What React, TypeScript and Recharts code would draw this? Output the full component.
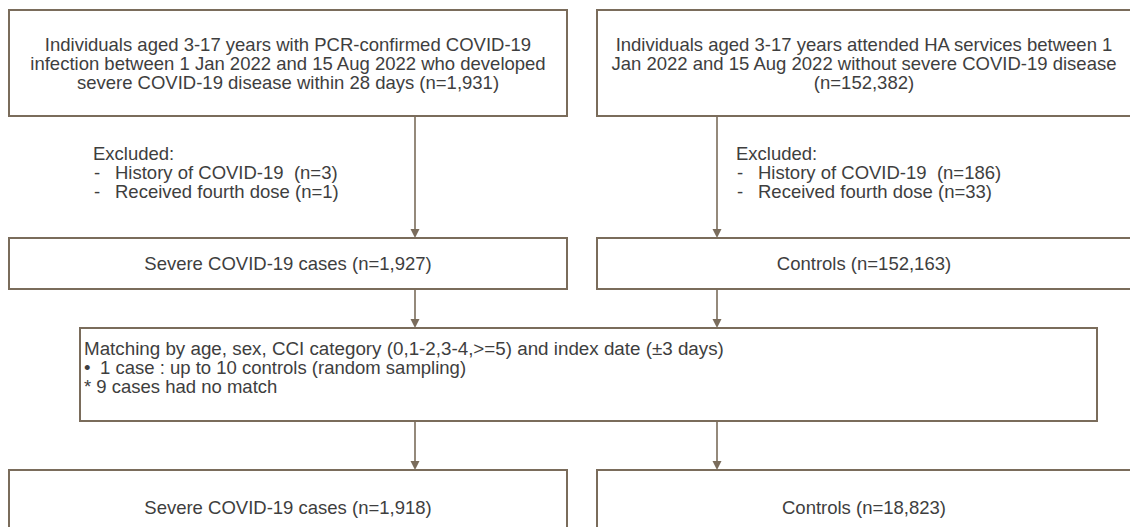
import React from 'react';
import { ComposedChart, XAxis, YAxis, ReferenceArea, ReferenceLine, Scatter } from 'recharts';

const fmt = (n: number) => n.toLocaleString('en-US');

// flow values
const groupNames = ['Severe COVID-19 cases', 'Controls'];
const sourceCounts = [1931, 152382];
const exclusionReasons = ['History of COVID-19 ', 'Received fourth dose'];
const excludedCases = [3, 1];
const excludedControls = [186, 33];
const eligibleCounts = [1927, 152163];
const matchingCriteria = 'Matching by age, sex, CCI category (0,1-2,3-4,>=5) and index date (±3 days)';
const matchingRatio = '1 case : up to 10 controls (random sampling)';
const unmatchedCases = 9;
const matchedCounts = [1918, 18823];

const sourceLines = [
  [
    'Individuals aged 3-17 years with PCR-confirmed COVID-19',
    'infection between 1 Jan 2022 and 15 Aug 2022 who developed',
    `severe COVID-19 disease within 28 days (n=${fmt(sourceCounts[0])})`,
  ],
  [
    'Individuals aged 3-17 years attended HA services between 1',
    'Jan 2022 and 15 Aug 2022 without severe COVID-19 disease',
    `(n=${fmt(sourceCounts[1])})`,
  ],
];
const exclusionCounts = [excludedCases, excludedControls];

// layout
const W = 1130;
const H = 527;
const BORDER = '#7a6c5b';
const INK = '#3e3e3e';
const FONT = '"Liberation Sans", Arial, sans-serif';
const FS = 18.5;
const LH = 19;

const columns = [
  { x1: 9, x2: 567, arrow: 415, exText: 93, exItem: 115 },
  { x1: 597, x2: 1131, arrow: 717, exText: 736, exItem: 758 },
];
const rows = {
  source: [10, 116],
  excluded: 153,
  eligible: [238, 289],
  match: [328, 421],
  matched: [470, 530],
};
const matchX = [80, 1097];

const textStyle = { fontFamily: FONT, fontSize: FS, fill: INK, whiteSpace: 'pre' as const };

const centeredLabel = (lines: string[], offsetY?: number) => (p: any) => {
  const { x, y, width, height } = p.viewBox;
  const cx = x + width / 2;
  const top = offsetY != null ? y + offsetY : y + height / 2 - ((lines.length - 1) * LH) / 2;
  return (
    <g>
      {lines.map((l, i) => (
        <text key={i} x={cx} y={top + i * LH} textAnchor="middle" dominantBaseline="central" style={textStyle}>
          {l}
        </text>
      ))}
    </g>
  );
};

const exclusionLabel = (col: number) => (p: any) => {
  const { y } = p.viewBox;
  const c = columns[col];
  return (
    <g>
      <text x={c.exText} y={y} dominantBaseline="central" style={textStyle}>Excluded:</text>
      {exclusionReasons.map((r, i) => (
        <g key={i}>
          <text x={c.exText + 1} y={y + (i + 1) * LH} dominantBaseline="central" style={textStyle}>-</text>
          <text x={c.exItem} y={y + (i + 1) * LH} dominantBaseline="central" style={textStyle}>
            {`${r} (n=${fmt(exclusionCounts[col][i])})`}
          </text>
        </g>
      ))}
    </g>
  );
};

const matchLabel = (p: any) => {
  const { x, y } = p.viewBox;
  return (
    <g>
      <text x={x + 4} y={y + 20} dominantBaseline="central" style={{ ...textStyle, fontSize: 18.8 }}>{matchingCriteria}</text>
      <text x={x + 4} y={y + 39} dominantBaseline="central" style={textStyle}>•</text>
      <text x={x + 20} y={y + 39} dominantBaseline="central" style={textStyle}>{matchingRatio}</text>
      <text x={x + 4} y={y + 58} dominantBaseline="central" style={textStyle}>{`* ${unmatchedCases} cases had no match`}</text>
    </g>
  );
};

const Arrow = (props: any) => {
  const { x1, y1, x2, y2 } = props;
  const h = 9;
  const w = 4.5;
  return (
    <g>
      <line x1={x1} y1={y1} x2={x2} y2={y2 - h + 1} stroke={BORDER} strokeWidth={1.6} />
      <polygon points={`${x2 - w},${y2 - h} ${x2 + w},${y2 - h} ${x2},${y2}`} fill={BORDER} />
    </g>
  );
};

const boxProps = { fill: '#fff', stroke: BORDER, strokeWidth: 2, fillOpacity: 1, ifOverflow: 'visible' as const };

export default function App() {
  const arrows: [number, number][] = [
    [rows.source[1], rows.eligible[0]],
    [rows.eligible[1], rows.match[0]],
    [rows.match[1], rows.matched[0]],
  ];
  return (
    <div style={{ position: 'absolute', left: 0, top: 0, width: W, height: H, background: '#fff' }}>
      <ComposedChart width={W} height={H} margin={{ top: 0, right: 0, bottom: 0, left: 0 }} data={[]}>
        <XAxis type="number" dataKey="x" domain={[0, W]} hide allowDataOverflow />
        <YAxis type="number" dataKey="y" domain={[0, H]} reversed hide allowDataOverflow />
        <Scatter data={[]} isAnimationActive={false} />

        {columns.map((c, i) =>
          arrows.map(([a, b], j) => (
            <ReferenceLine
              key={`ar-${i}-${j}`}
              segment={[{ x: c.arrow, y: a }, { x: c.arrow, y: b }]}
              stroke={BORDER}
              shape={Arrow}
              ifOverflow="visible"
            />
          ))
        )}

        {columns.map((c, i) => (
          <ReferenceArea
            key={`src-${i}`}
            x1={c.x1}
            x2={c.x2}
            y1={rows.source[0]}
            y2={rows.source[1]}
            {...boxProps}
            label={centeredLabel(sourceLines[i])}
          />
        ))}

        {columns.map((c, i) => (
          <ReferenceArea
            key={`ex-${i}`}
            x1={c.exText}
            x2={c.exText + 10}
            y1={rows.excluded}
            y2={rows.excluded + 1}
            fill="none"
            stroke="none"
            ifOverflow="visible"
            label={exclusionLabel(i)}
          />
        ))}

        {columns.map((c, i) => (
          <ReferenceArea
            key={`el-${i}`}
            x1={c.x1}
            x2={c.x2}
            y1={rows.eligible[0]}
            y2={rows.eligible[1]}
            {...boxProps}
            label={centeredLabel([`${groupNames[i]} (n=${fmt(eligibleCounts[i])})`])}
          />
        ))}

        <ReferenceArea
          x1={matchX[0]}
          x2={matchX[1]}
          y1={rows.match[0]}
          y2={rows.match[1]}
          {...boxProps}
          label={matchLabel}
        />

        {columns.map((c, i) => (
          <ReferenceArea
            key={`mt-${i}`}
            x1={c.x1}
            x2={c.x2}
            y1={rows.matched[0]}
            y2={rows.matched[1]}
            {...boxProps}
            label={centeredLabel([`${groupNames[i]} (n=${fmt(matchedCounts[i])})`], 37)}
          />
        ))}
      </ComposedChart>
    </div>
  );
}
